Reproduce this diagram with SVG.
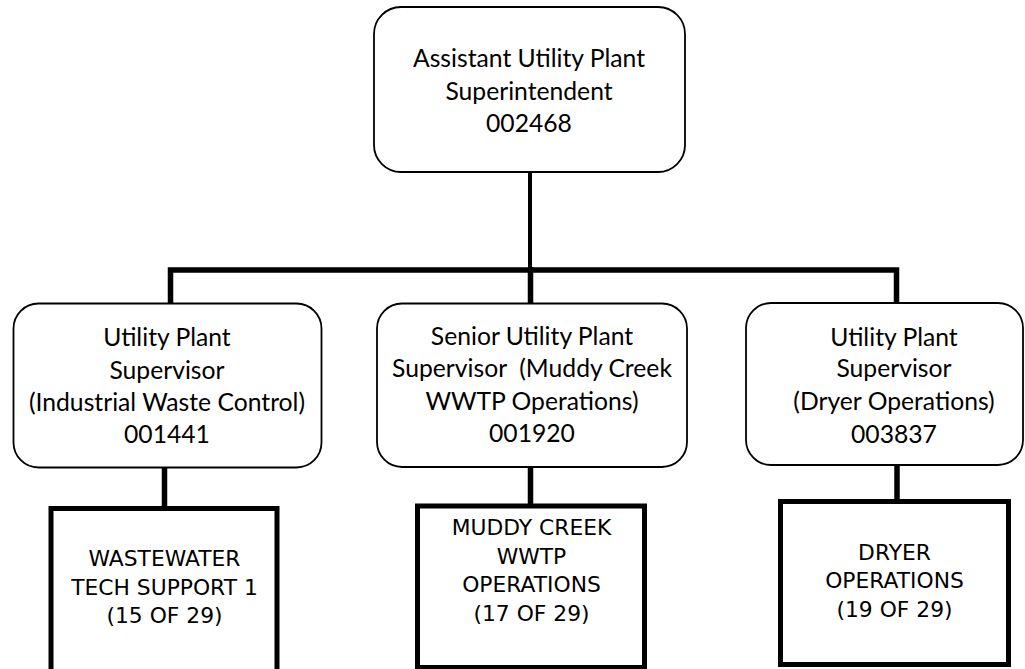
<svg xmlns="http://www.w3.org/2000/svg" width="1025" height="669" viewBox="0 0 1025 669">
<style>
.rb{fill:#fff;stroke:#000;stroke-width:1.8}
.sb{fill:#fff;stroke:#000;stroke-width:5}
.t1{font-family:Lato,"Liberation Sans",sans-serif;font-size:24.7px;fill:#000;text-anchor:middle}
.t2{font-family:"DejaVu Sans",Verdana,sans-serif;font-size:21.8px;fill:#000;text-anchor:middle}
.ln{fill:none;stroke:#000;stroke-linejoin:miter;stroke-linecap:butt}
</style>
<rect width="1025" height="669" fill="#fff"/>
<g id="connectors">
<line class="ln" x1="530" y1="172" x2="530" y2="270" stroke-width="4"/>
<path class="ln" d="M170.5,303 V270 H896.5 V302" stroke-width="5.5"/>
<line class="ln" x1="530.5" y1="267" x2="530.5" y2="303" stroke-width="5.5"/>
<line class="ln" x1="164.5" y1="468" x2="164.5" y2="507" stroke-width="5.5"/>
<line class="ln" x1="530.5" y1="467" x2="530.5" y2="504" stroke-width="5.5"/>
<line class="ln" x1="897" y1="466" x2="897" y2="500" stroke-width="5.5"/>
</g>
<g id="n-top">
<rect class="rb" x="374" y="7" width="311" height="165" rx="27"/>
<text class="t1" x="529" y="67">Assistant Utility Plant</text>
<text class="t1" x="529" y="100">Superintendent</text>
<text class="t1" x="529" y="132">002468</text>
</g>
<g id="n-iwc">
<rect class="rb" x="13.5" y="303.5" width="308" height="164" rx="25"/>
<text class="t1" x="167" y="346">Utility Plant</text>
<text class="t1" x="167" y="378.5">Supervisor</text>
<text class="t1" x="167" y="411">(Industrial Waste Control)</text>
<text class="t1" x="167" y="443">001441</text>
</g>
<g id="n-mc">
<rect class="rb" x="377" y="303.5" width="310" height="163.5" rx="25"/>
<text class="t1" x="532" y="345">Senior Utility Plant</text>
<text class="t1" x="532" y="377" xml:space="preserve">Supervisor  (Muddy Creek</text>
<text class="t1" x="532" y="410">WWTP Operations)</text>
<text class="t1" x="532" y="442">001920</text>
</g>
<g id="n-dry">
<rect class="rb" x="746" y="303" width="277" height="162" rx="25"/>
<text class="t1" x="894" y="346">Utility Plant</text>
<text class="t1" x="894" y="377">Supervisor</text>
<text class="t1" x="894" y="410">(Dryer Operations)</text>
<text class="t1" x="894" y="443">003837</text>
</g>
<g id="n-wts">
<rect class="sb" x="51" y="508.5" width="226" height="180"/>
<text class="t2" x="164.5" y="566">WASTEWATER</text>
<text class="t2" x="164.5" y="594.5">TECH SUPPORT 1</text>
<text class="t2" x="164.5" y="623">(15 OF 29)</text>
</g>
<g id="n-mco">
<rect class="sb" x="417.5" y="506" width="227" height="161.5"/>
<text class="t2" x="531.5" y="535">MUDDY CREEK</text>
<text class="t2" x="531.5" y="564">WWTP</text>
<text class="t2" x="531.5" y="592">OPERATIONS</text>
<text class="t2" x="531.5" y="621">(17 OF 29)</text>
</g>
<g id="n-dop">
<rect class="sb" x="780.5" y="501.5" width="228" height="163"/>
<text class="t2" x="894.5" y="560">DRYER</text>
<text class="t2" x="894.5" y="588">OPERATIONS</text>
<text class="t2" x="894.5" y="617">(19 OF 29)</text>
</g>
</svg>
